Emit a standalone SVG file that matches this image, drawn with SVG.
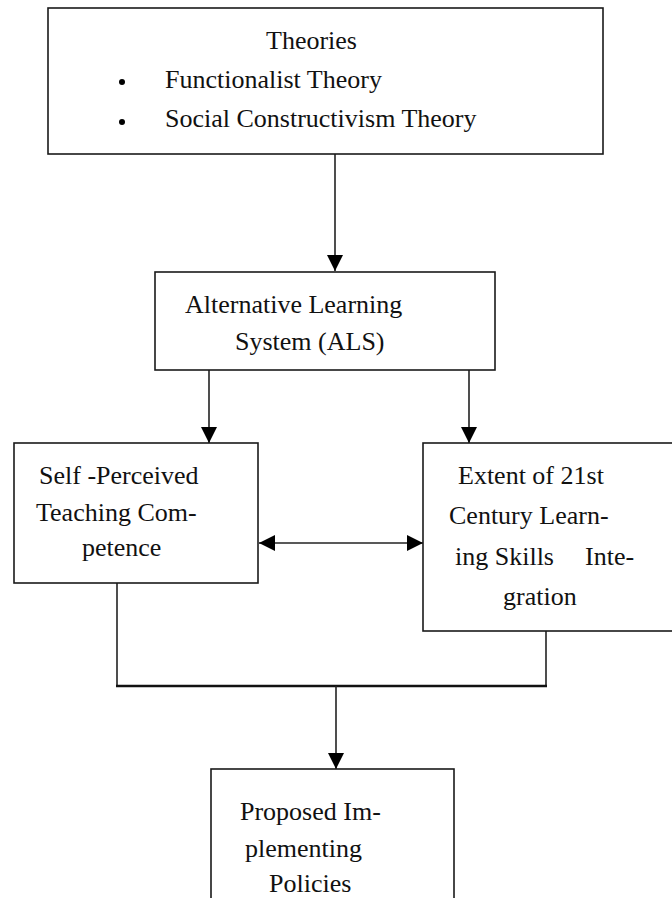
<svg xmlns="http://www.w3.org/2000/svg" width="672" height="898" viewBox="0 0 672 898">
<style>
.box{fill:#fff;stroke:#1a1a1a;stroke-width:1.6}
.t{font-family:"Liberation Serif","Times New Roman",serif;font-size:26px;fill:#111}
.c{fill:none;stroke:#222;stroke-width:1.6}
.ct{fill:none;stroke:#111;stroke-width:2.6}
</style>
<defs>
<marker id="ah" viewBox="0 0 16 16" refX="16" refY="8" markerWidth="16" markerHeight="16" markerUnits="userSpaceOnUse" orient="auto-start-reverse">
<path d="M0,0 L16,8 L0,16 z" fill="#000"/>
</marker>
</defs>
<rect width="672" height="898" fill="#fff"/>
<g id="connectors">
<line class="c" x1="335" y1="154" x2="335" y2="271" marker-end="url(#ah)"/>
<line class="c" x1="209" y1="370" x2="209" y2="443" marker-end="url(#ah)"/>
<line class="c" x1="469" y1="370" x2="469" y2="443" marker-end="url(#ah)"/>
<line class="c" x1="259" y1="543" x2="423" y2="543" marker-start="url(#ah)" marker-end="url(#ah)"/>
<polyline class="c" points="117,583 117,686"/>
<polyline class="c" points="546,631 546,686"/>
<line class="ct" x1="116" y1="686" x2="547" y2="686"/>
<line class="c" x1="336" y1="686" x2="336" y2="769" marker-end="url(#ah)"/>
</g>
<g id="theories">
<rect class="box" x="48" y="8" width="555" height="146"/>
<text class="t" x="266" y="49">Theories</text>
<circle cx="122" cy="82" r="3"/>
<text class="t" x="165" y="88">Functionalist Theory</text>
<circle cx="122" cy="122" r="3"/>
<text class="t" x="165" y="127">Social Constructivism Theory</text>
</g>
<g id="als">
<rect class="box" x="155" y="272" width="340" height="98"/>
<text class="t" x="185" y="313">Alternative Learning</text>
<text class="t" x="235" y="350">System (ALS)</text>
</g>
<g id="competence">
<rect class="box" x="14" y="443" width="244" height="140"/>
<text class="t" x="39" y="484">Self -Perceived</text>
<text class="t" x="36" y="521">Teaching Com-</text>
<text class="t" x="82" y="556">petence</text>
</g>
<g id="skills">
<rect class="box" x="423" y="443" width="260" height="188"/>
<text class="t" x="458" y="484">Extent of 21st</text>
<text class="t" x="449" y="524">Century Learn-</text>
<text class="t" x="455" y="565">ing Skills</text>
<text class="t" x="585" y="565">Inte-</text>
<text class="t" x="503" y="605">gration</text>
</g>
<g id="policies">
<rect class="box" x="211" y="769" width="243" height="140"/>
<text class="t" x="240" y="820">Proposed Im-</text>
<text class="t" x="245" y="857">plementing</text>
<text class="t" x="269" y="892">Policies</text>
</g>
</svg>
